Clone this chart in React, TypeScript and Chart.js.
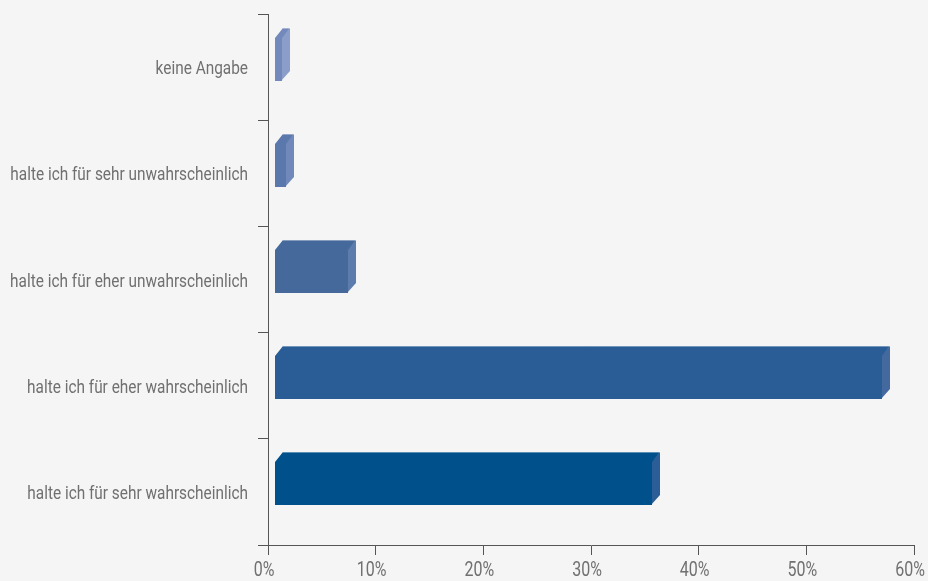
import React, { useEffect, useRef } from "react";
import { Chart, registerables } from "chart.js";

Chart.register(...registerables);

const categories = [
  "keine Angabe",
  "halte ich für sehr unwahrscheinlich",
  "halte ich für eher unwahrscheinlich",
  "halte ich für eher wahrscheinlich",
  "halte ich für sehr wahrscheinlich",
];
const values = [0.74, 1.09, 6.87, 56.5, 35.1];
const frontColors = ["#7489bb", "#5b78ad", "#46699c", "#2a5d96", "#00508c"];
const sideColors = ["#8b9ec9", "#7189ba", "#5b7cad", "#44699e", "#2b5e96"];
const xTicks = [0, 10, 20, 30, 40, 50, 60];

const FONT = "Roboto, 'Liberation Sans', sans-serif";
const TEXT = "#707070";
const AXIS = "#555555";

const DX = 8;
const DY = 10;
const SHIFT_X = 6;
const SHIFT_Y = -8;

function condensedText(ctx: any, text: string, x: number, y: number, align: string, size: number, sx: number) {
  ctx.save();
  ctx.translate(x, y);
  ctx.scale(sx, 1);
  ctx.font = `${size}px ${FONT}`;
  ctx.fillStyle = TEXT;
  ctx.textAlign = align;
  ctx.textBaseline = "alphabetic";
  ctx.fillText(text, 0, 0);
  ctx.restore();
}

const bar3d = {
  id: "bar3d",
  afterDatasetsDraw(chart: any) {
    const ctx = chart.ctx;
    const meta = chart.getDatasetMeta(0);
    meta.data.forEach((el: any, i: number) => {
      const p = el.getProps(["x", "y", "base", "height"], true);
      const L = Math.round(p.base + SHIFT_X);
      const R = Math.round(p.x + SHIFT_X);
      const T = Math.round(p.y - p.height / 2 + SHIFT_Y);
      const B = T + Math.round(p.height);
      ctx.save();
      // side
      ctx.fillStyle = sideColors[i];
      ctx.beginPath();
      ctx.moveTo(R - 1, T);
      ctx.lineTo(R + DX, T - DY);
      ctx.lineTo(R + DX, B - DY);
      ctx.lineTo(R - 1, B);
      ctx.closePath();
      ctx.fill();
      // top
      ctx.fillStyle = frontColors[i];
      ctx.beginPath();
      ctx.moveTo(L, T + 2);
      ctx.lineTo(L, T);
      ctx.lineTo(L + DX, T - DY);
      ctx.lineTo(R + DX, T - DY);
      ctx.lineTo(R, T);
      ctx.lineTo(R, T + 2);
      ctx.closePath();
      ctx.fill();
      // front
      ctx.fillRect(L, T, R - L, B - T);
      // light back edge
      ctx.strokeStyle = "rgba(255,255,255,0.35)";
      ctx.lineWidth = 1;
      ctx.beginPath();
      ctx.moveTo(L + DX, T - DY + 0.5);
      ctx.lineTo(R + DX, T - DY + 0.5);
      ctx.stroke();
      ctx.restore();
    });
  },
  afterDraw(chart: any) {
    const ctx = chart.ctx;
    const ys = chart.scales.y;
    const xs = chart.scales.x;
    categories.forEach((c, i) => {
      condensedText(ctx, c, ys.right - 20, ys.getPixelForValue(i) + 7, "right", 18, 0.855);
    });
    xTicks.forEach((v) => {
      condensedText(ctx, v + "%", xs.getPixelForValue(v) - 4, xs.top + 31, "center", 20, 0.8);
    });
  },
};

export default function App() {
  const ref = useRef<HTMLCanvasElement>(null);
  useEffect(() => {
    document.body.style.margin = "0";
    document.body.style.background = "#f5f5f5";
    const chart = new Chart(ref.current!, {
      type: "bar",
      data: {
        labels: categories,
        datasets: [
          {
            data: values,
            backgroundColor: "rgba(0,0,0,0)",
            borderWidth: 0,
            barThickness: 43,
          },
        ],
      },
      options: {
        indexAxis: "y",
        animation: false,
        responsive: true,
        maintainAspectRatio: false,
        layout: { padding: { top: 14, right: 14, bottom: 0, left: 0 } },
        plugins: { legend: { display: false }, tooltip: { enabled: false } },
        scales: {
          x: {
            min: 0,
            max: 60,
            afterFit: (s: any) => {
              s.height = 36;
            },
            afterBuildTicks: (s: any) => {
              s.ticks = xTicks.map((v) => ({ value: v }));
            },
            grid: { drawOnChartArea: false, tickLength: 10, color: AXIS },
            border: { color: AXIS, width: 1 },
            ticks: { display: false },
          },
          y: {
            afterFit: (s: any) => {
              s.width = 268;
            },
            grid: { drawOnChartArea: false, tickLength: 10, color: AXIS, offset: true },
            border: { color: AXIS, width: 1 },
            ticks: { display: false },
          },
        },
      },
      plugins: [bar3d],
    } as any);
    return () => chart.destroy();
  }, []);
  return (
    <div style={{ width: 928, height: 581, background: "#f5f5f5", position: "relative" }}>
      <canvas ref={ref} />
    </div>
  );
}
